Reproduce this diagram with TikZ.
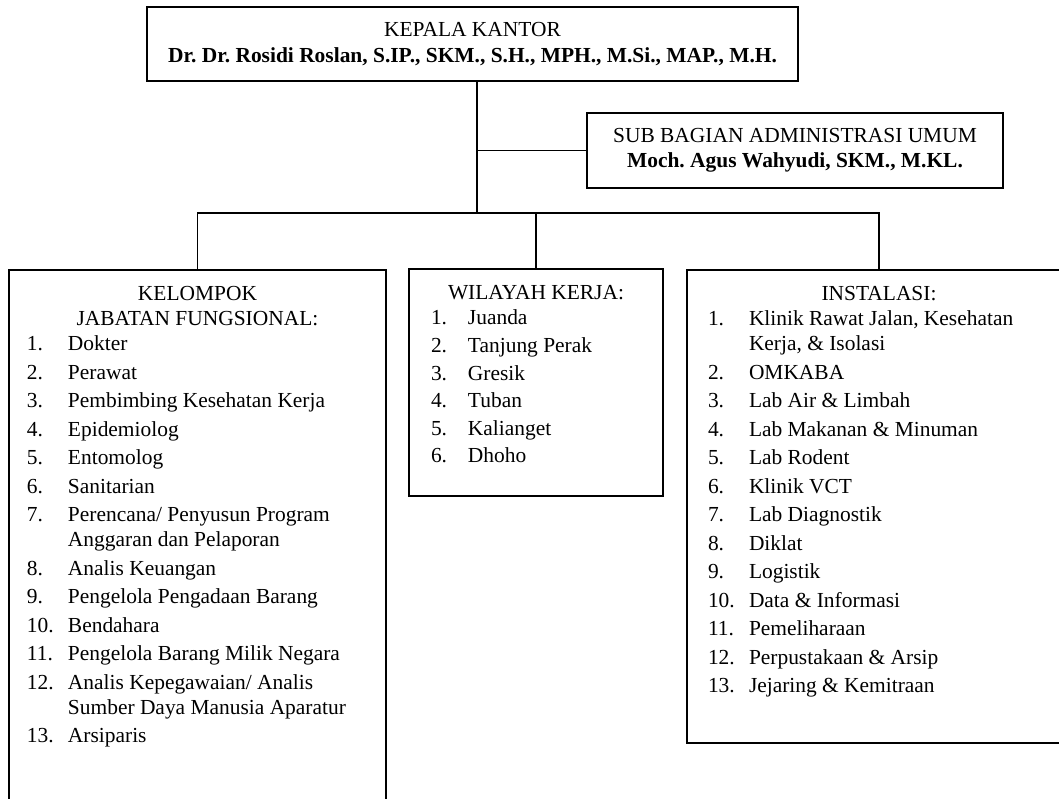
\documentclass[tikz,border=0pt]{standalone}
\usepackage{fontspec}
\setmainfont{Liberation Serif}
\usetikzlibrary{positioning}
\frenchspacing
\newlength{\px}
\setlength{\px}{0.56pt}
\newlength{\kolom}
\newcommand{\butir}[3][3.5]{\par\vspace{#1\px}\noindent\makebox[\kolom][l]{#2}\mbox{#3}}
\newcommand{\lanjut}[1]{\par\noindent\hspace*{\kolom}\mbox{#1}}
\newcommand{\isi}{\fontsize{12pt}{14pt}\selectfont}

\begin{document}
\begin{tikzpicture}[x=0.56pt,y=-0.56pt,
  kotak/.style={draw,line width=1.1pt,inner sep=0pt,font=\isi},
  garis/.style={line width=1pt}]
\useasboundingbox (0,0) rectangle (1059,798);
\clip (0,0) rectangle (1059,798);

\node [kotak,minimum width=651\px,minimum height=74\px,align=center,
  font=\fontsize{12pt}{15pt}\selectfont] (kepala) at (472.5,44)
{KEPALA KANTOR\\\textbf{Dr. Dr. Rosidi Roslan, S.IP., SKM., S.H., MPH., M.Si., MAP., M.H.}};

\node [kotak,minimum width=416\px,minimum height=75\px,align=center] (sub) at (795,150.5)
{SUB BAGIAN ADMINISTRASI UMUM\\\textbf{Moch. Agus Wahyudi, SKM., M.KL.}};

\node [kotak,anchor=north] (jafung) at (197.5,269)
{\parbox[t][561\px][t]{377\px}{\isi
\centering\rule{0pt}{31\px}KELOMPOK\\JABATAN FUNGSIONAL:\par
\raggedright\leftskip=18\px\setlength{\kolom}{41\px}
\butir[0]{1.}{Dokter}
\butir{2.}{Perawat}
\butir{3.}{Pembimbing Kesehatan Kerja}
\butir{4.}{Epidemiolog}
\butir{5.}{Entomolog}
\butir{6.}{Sanitarian}
\butir{7.}{Perencana/ Penyusun Program}
\lanjut{Anggaran dan Pelaporan}
\butir{8.}{Analis Keuangan}
\butir{9.}{Pengelola Pengadaan Barang}
\butir{10.}{Bendahara}
\butir{11.}{Pengelola Barang Milik Negara}
\butir{12.}{Analis Kepegawaian/ Analis}
\lanjut{Sumber Daya Manusia Aparatur}
\butir{13.}{Arsiparis}\par}};

\node [kotak,anchor=north] (wilker) at (536,268)
{\parbox[t][227\px][t]{254\px}{\isi
\centering\rule{0pt}{31\px}WILAYAH KERJA:\par
\raggedright\leftskip=22\px\setlength{\kolom}{37\px}
\butir[0]{1.}{Juanda}
\butir[2.6]{2.}{Tanjung Perak}
\butir[2.6]{3.}{Gresik}
\butir[2.6]{4.}{Tuban}
\butir[2.6]{5.}{Kalianget}
\butir[2.6]{6.}{Dhoho}\par}};

\node [kotak,anchor=north] (instalasi) at (879,269)
{\parbox[t][473\px][t]{384\px}{\isi
\centering\rule{0pt}{31\px}INSTALASI:\par
\raggedright\leftskip=21\px\setlength{\kolom}{41\px}
\butir[0]{1.}{Klinik Rawat Jalan, Kesehatan}
\lanjut{Kerja, \& Isolasi}
\butir{2.}{OMKABA}
\butir{3.}{Lab Air \& Limbah}
\butir{4.}{Lab Makanan \& Minuman}
\butir{5.}{Lab Rodent}
\butir{6.}{Klinik VCT}
\butir{7.}{Lab Diagnostik}
\butir{8.}{Diklat}
\butir{9.}{Logistik}
\butir{10.}{Data \& Informasi}
\butir{11.}{Pemeliharaan}
\butir{12.}{Perpustakaan \& Arsip}
\butir{13.}{Jejaring \& Kemitraan}\par}};

\coordinate (simpul) at (477,213);

\draw [garis]

(kepala.south -| simpul) -- (simpul)

(sub.west) -- (sub.west -| simpul)

(jafung.north) |- (simpul) -| (instalasi.north)

(wilker.north) -- (wilker.north |- simpul)

;
\end{tikzpicture}
\end{document}
